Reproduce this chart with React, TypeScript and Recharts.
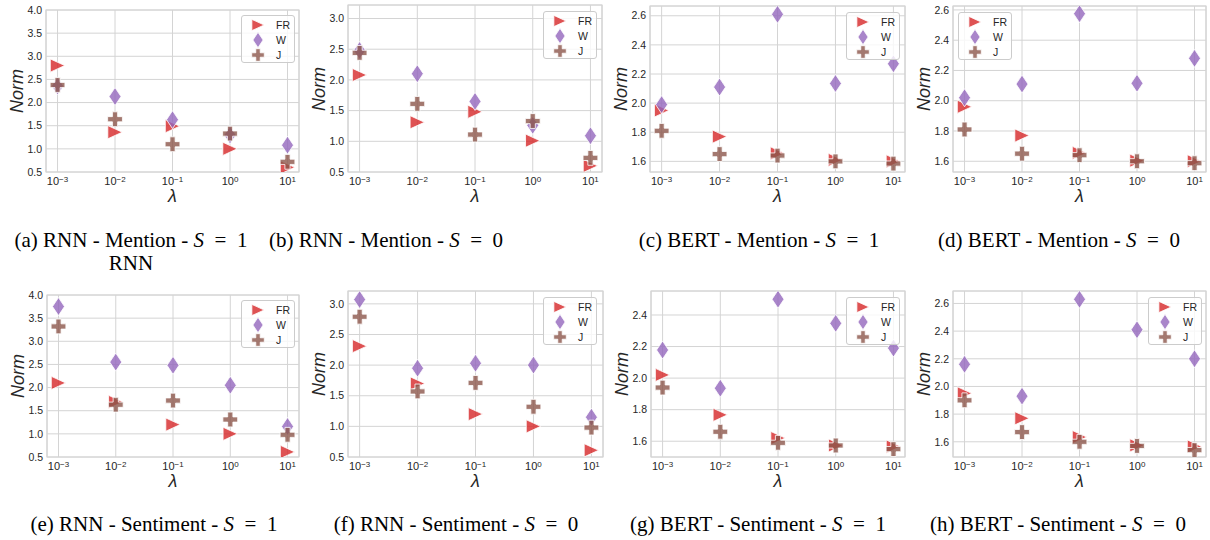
import React from 'react';
import {
  ScatterChart,
  Scatter,
  XAxis,
  YAxis,
  CartesianGrid,
  Legend,
  ReferenceArea,
} from 'recharts';

// lambda values on the x axis (log scale)
const lambdas = [0.001, 0.01, 0.1, 1, 10];
const lambdaTicks = [0.001, 0.01, 0.1, 1, 10];
const lambdaExponents = ['\u22123', '\u22122', '\u22121', '0', '1'];

// (a) RNN - Mention - S = 1
const rnnMentionS1FR = [2.8, 1.36, 1.49, 1.0, 0.6];
const rnnMentionS1W = [2.36, 2.13, 1.63, 1.3, 1.08];
const rnnMentionS1J = [2.38, 1.64, 1.1, 1.33, 0.72];

// (b) RNN - Mention - S = 0
const rnnMentionS0FR = [2.08, 1.31, 1.48, 1.01, 0.6];
const rnnMentionS0W = [2.48, 2.1, 1.65, 1.26, 1.09];
const rnnMentionS0J = [2.44, 1.61, 1.11, 1.33, 0.73];

// (c) BERT - Mention - S = 1
const bertMentionS1FR = [1.95, 1.77, 1.655, 1.61, 1.6];
const bertMentionS1W = [1.99, 2.11, 2.61, 2.135, 2.27];
const bertMentionS1J = [1.81, 1.65, 1.64, 1.6, 1.585];

// (d) BERT - Mention - S = 0
const bertMentionS0FR = [1.96, 1.77, 1.655, 1.604, 1.6];
const bertMentionS0W = [2.02, 2.11, 2.575, 2.115, 2.28];
const bertMentionS0J = [1.81, 1.65, 1.64, 1.6, 1.587];

// (e) RNN - Sentiment - S = 1
const rnnSentimentS1FR = [2.1, 1.69, 1.2, 1.0, 0.61];
const rnnSentimentS1W = [3.75, 2.55, 2.48, 2.05, 1.16];
const rnnSentimentS1J = [3.32, 1.63, 1.72, 1.31, 0.98];

// (f) RNN - Sentiment - S = 0
const rnnSentimentS0FR = [2.31, 1.7, 1.2, 1.0, 0.61];
const rnnSentimentS0W = [3.07, 1.95, 2.03, 2.0, 1.15];
const rnnSentimentS0J = [2.79, 1.57, 1.71, 1.32, 0.98];

// (g) BERT - Sentiment - S = 1
const bertSentimentS1FR = [2.02, 1.767, 1.62, 1.573, 1.566];
const bertSentimentS1W = [2.178, 1.936, 2.5, 2.347, 2.19];
const bertSentimentS1J = [1.94, 1.66, 1.59, 1.573, 1.55];

// (h) BERT - Sentiment - S = 0
const bertSentimentS0FR = [1.95, 1.77, 1.634, 1.574, 1.566];
const bertSentimentS0W = [2.16, 1.93, 2.63, 2.41, 2.2];
const bertSentimentS0J = [1.9, 1.67, 1.6, 1.57, 1.54];

const ticksWide = [0.5, 1.0, 1.5, 2.0, 2.5, 3.0, 3.5, 4.0];
const ticksMid = [0.5, 1.0, 1.5, 2.0, 2.5, 3.0];
const ticksBert = [1.6, 1.8, 2.0, 2.2, 2.4, 2.6];
const ticksBertShort = [1.6, 1.8, 2.0, 2.2, 2.4];

const FONT = '"Liberation Sans", Arial, sans-serif';
const SERIF = '"Liberation Serif", "Times New Roman", serif';
const INK = '#262626';
const GRID = '#d4d4d4';
const lambdaDomain = [0.00063, 15.85];

const seriesDefs = [
  { name: 'FR', color: '#d62728', kind: 'triangle' },
  { name: 'W', color: '#9467bd', kind: 'diamond' },
  { name: 'J', color: '#8c564b', kind: 'plus' },
];

function Marker({ kind, color, cx, cy, s = 1 }: any) {
  const common = {
    fill: color,
    fillOpacity: 0.8,
    stroke: '#ffffff',
    strokeWidth: 0.8,
  };
  if (kind === 'triangle') {
    const hw = 7.2 * s;
    const hh = 6.6 * s;
    return (
      <polygon
        points={`${cx + hw},${cy} ${cx - hw},${cy - hh} ${cx - hw},${cy + hh}`}
        {...common}
      />
    );
  }
  if (kind === 'diamond') {
    const hw = 6 * s;
    const hh = 9 * s;
    return (
      <polygon
        points={`${cx},${cy - hh} ${cx + hw},${cy} ${cx},${cy + hh} ${cx - hw},${cy}`}
        {...common}
      />
    );
  }
  const a = 7.4 * s;
  const t = 2.6 * s;
  const d = `M${cx - t},${cy - a} H${cx + t} V${cy - t} H${cx + a} V${cy + t} H${cx + t} V${cy + a} H${cx - t} V${cy + t} H${cx - a} V${cy - t} H${cx - t} Z`;
  return <path d={d} {...common} />;
}

function LambdaTick({ x, y, payload }: any) {
  const i = lambdaTicks.indexOf(payload.value);
  return (
    <text
      x={x}
      y={y}
      dy="0.75em"
      textAnchor="middle"
      fill={INK}
      fontSize={11}
      fontFamily={FONT}
    >
      <tspan>10</tspan>
      <tspan dy="-0.45em" fontSize={8}>
        {lambdaExponents[i]}
      </tspan>
    </text>
  );
}

function LegendBox() {
  return (
    <div
      style={{
        position: 'relative',
        width: 54,
        height: 48,
        boxSizing: 'border-box',
        border: '1px solid #cccccc',
        borderRadius: 3,
        background: 'rgba(255,255,255,0.8)',
      }}
    >
      {seriesDefs.map((s, i) => (
        <div key={s.name}>
          <svg
            width={20}
            height={16}
            style={{ position: 'absolute', left: 6, top: 1 + i * 15 }}
          >
            <Marker kind={s.kind} color={s.color} cx={10} cy={8} s={0.85} />
          </svg>
          <span
            style={{
              position: 'absolute',
              left: 34,
              top: 2 + i * 15,
              fontFamily: FONT,
              fontSize: 10.5,
              lineHeight: '14px',
              color: INK,
            }}
          >
            {s.name}
          </span>
        </div>
      ))}
    </div>
  );
}

const panels = [
  {
    id: 'a',
    box: [46, 299, 10, 172],
    yDomain: [0.5, 4.0],
    yTicks: ticksWide,
    legend: [241, 15],
    values: [rnnMentionS1FR, rnnMentionS1W, rnnMentionS1J],
  },
  {
    id: 'b',
    box: [348, 602, 5, 172],
    yDomain: [0.5, 3.22],
    yTicks: ticksMid,
    legend: [543, 11],
    values: [rnnMentionS0FR, rnnMentionS0W, rnnMentionS0J],
  },
  {
    id: 'c',
    box: [650, 905, 6, 172],
    yDomain: [1.527, 2.667],
    yTicks: ticksBert,
    legend: [846, 12],
    values: [bertMentionS1FR, bertMentionS1W, bertMentionS1J],
  },
  {
    id: 'd',
    box: [953, 1206, 6, 172],
    yDomain: [1.529, 2.626],
    yTicks: ticksBert,
    legend: [958, 12],
    values: [bertMentionS0FR, bertMentionS0W, bertMentionS0J],
  },
  {
    id: 'e',
    box: [47, 299, 295, 457],
    yDomain: [0.5, 4.0],
    yTicks: ticksWide,
    legend: [241, 300],
    values: [rnnSentimentS1FR, rnnSentimentS1W, rnnSentimentS1J],
  },
  {
    id: 'f',
    box: [348, 603, 291, 457],
    yDomain: [0.5, 3.21],
    yTicks: ticksMid,
    legend: [543, 297],
    values: [rnnSentimentS0FR, rnnSentimentS0W, rnnSentimentS0J],
  },
  {
    id: 'g',
    box: [651, 905, 291, 457],
    yDomain: [1.5, 2.552],
    yTicks: ticksBertShort,
    legend: [846, 297],
    values: [bertSentimentS1FR, bertSentimentS1W, bertSentimentS1J],
  },
  {
    id: 'h',
    box: [953, 1206, 291, 457],
    yDomain: [1.49, 2.69],
    yTicks: ticksBert,
    legend: [1148, 297],
    values: [bertSentimentS0FR, bertSentimentS0W, bertSentimentS0J],
  },
];

const captions = [
  { label: '(a) RNN - Mention - ', s: '1', x: 131, y: 240, extra: 'RNN' },
  { label: '(b) RNN - Mention - ', s: '0', x: 386, y: 240 },
  { label: '(c) BERT - Mention - ', s: '1', x: 759, y: 240 },
  { label: '(d) BERT - Mention - ', s: '0', x: 1059, y: 240 },
  { label: '(e) RNN - Sentiment - ', s: '1', x: 154, y: 524 },
  { label: '(f) RNN - Sentiment - ', s: '0', x: 456, y: 524 },
  { label: '(g) BERT - Sentiment - ', s: '1', x: 758, y: 524 },
  { label: '(h) BERT - Sentiment - ', s: '0', x: 1058, y: 524 },
];

function Panel({ p }: any) {
  const padL = 40;
  const padT = 9;
  const padR = 4;
  const axisH = 22;
  const [x0, x1, y0, y1] = p.box;
  const left = x0 - padL;
  const top = y0 - padT;
  const w = x1 - x0 + padL + padR;
  const h = y1 - y0 + padT + axisH;

  return (
    <>
      <div style={{ position: 'absolute', left, top }}>
        <ScatterChart
          width={w}
          height={h}
          margin={{ top: padT, right: padR, bottom: 0, left: 0 }}
          style={{ overflow: 'visible' }}
        >
          <CartesianGrid stroke={GRID} strokeWidth={1} />
          <XAxis
            type="number"
            dataKey="x"
            scale="log"
            domain={lambdaDomain}
            ticks={lambdaTicks}
            allowDataOverflow
            interval={0}
            height={axisH}
            axisLine={false}
            tickLine={false}
            tickSize={3}
            tickMargin={2}
            tick={<LambdaTick />}
          />
          <YAxis
            type="number"
            dataKey="y"
            domain={p.yDomain}
            ticks={p.yTicks}
            allowDataOverflow
            interval={0}
            width={padL}
            axisLine={false}
            tickLine={false}
            tickSize={2}
            tickMargin={2}
            tick={{ fill: INK, fontSize: 10.5, fontFamily: FONT }}
            tickFormatter={(v: number) => v.toFixed(1)}
          />
          <ReferenceArea
            x1={lambdaDomain[0]}
            x2={lambdaDomain[1]}
            y1={p.yDomain[0]}
            y2={p.yDomain[1]}
            fill="none"
            stroke={GRID}
            strokeWidth={1.2}
            ifOverflow="visible"
          />
          {seriesDefs.map((s, si) => (
            <Scatter
              key={s.name}
              name={s.name}
              data={lambdas.map((x, i) => ({ x, y: p.values[si][i] }))}
              fill={s.color}
              isAnimationActive={false}
              shape={(props: any) => (
                <Marker kind={s.kind} color={s.color} cx={props.cx} cy={props.cy} />
              )}
            />
          ))}
          <Legend
            layout="vertical"
            align="center"
            verticalAlign="middle"
            wrapperStyle={{
              left: p.legend[0] - left,
              top: p.legend[1] - top,
              width: 'auto',
            }}
            content={() => <LegendBox />}
          />
        </ScatterChart>
      </div>
      <div
        style={{
          position: 'absolute',
          left: x0 - 29,
          top: (y0 + y1) / 2,
          transform: 'translate(-50%, -50%) rotate(-90deg)',
          fontFamily: FONT,
          fontStyle: 'italic',
          fontSize: 18,
          color: INK,
          whiteSpace: 'nowrap',
        }}
      >
        Norm
      </div>
      <div
        style={{
          position: 'absolute',
          left: (x0 + x1) / 2,
          top: y1 + 24,
          transform: 'translate(-50%, -50%)',
          fontFamily: FONT,
          fontStyle: 'italic',
          fontSize: 18,
          color: INK,
        }}
      >
        λ
      </div>
    </>
  );
}

export default function App() {
  return (
    <div
      style={{
        position: 'absolute',
        left: 0,
        top: 0,
        width: 1210,
        height: 540,
        background: '#ffffff',
        overflow: 'hidden',
      }}
    >
      {panels.map((p) => (
        <Panel key={p.id} p={p} />
      ))}
      {captions.map((c) => (
        <div
          key={c.label}
          style={{
            position: 'absolute',
            left: c.x,
            top: c.y,
            transform: 'translate(-50%, -11.5px)',
            fontFamily: SERIF,
            fontSize: 21,
            lineHeight: '23px',
            color: '#000',
            whiteSpace: 'nowrap',
            textAlign: 'center',
          }}
        >
          {c.label}
          <i>S</i>
          {'\u2002=\u2002'}
          {c.s}
          {c.extra ? (
            <>
              <br />
              {c.extra}
            </>
          ) : null}
        </div>
      ))}
    </div>
  );
}
